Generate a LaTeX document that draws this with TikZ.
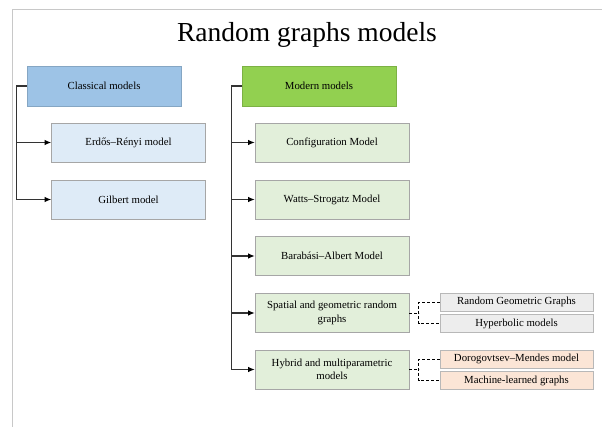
\documentclass[tikz,border=0pt]{standalone}
\usepackage{fontspec}
\setmainfont{Liberation Serif}
\usetikzlibrary{arrows.meta,positioning}
\definecolor{classhead}{HTML}{9DC3E6}
\definecolor{modhead}{HTML}{92D050}
\definecolor{classitem}{HTML}{DEEBF7}
\definecolor{moditem}{HTML}{E2EFDA}
\definecolor{graybox}{HTML}{EDEDED}
\definecolor{peachbox}{HTML}{FBE5D6}
\definecolor{framegray}{HTML}{C8C8C8}
\tikzset{>={Latex[length=6.5pt,width=5.5pt,black]}}
\tikzset{
  box/.style={draw=black!35, line width=0.6pt, minimum width=154pt,
    minimum height=40pt, align=center, inner sep=2pt,
    font=\fontsize{10.8}{13.5}\selectfont},
  headbox/.style={box},
  itembox/.style={box, minimum height=39pt},
  leafbox/.style={box, minimum width=153pt, minimum height=18pt, draw=black!28},
  tree/.style={->, line width=1.1pt, black!80},
  leafline/.style={dashed, dash pattern=on 3pt off 2pt, line width=0.8pt}
}
\begin{document}
\begin{tikzpicture}[x=1pt,y=1pt]
  \useasboundingbox (0,0) rectangle (602,427);
  \draw[framegray, line width=0.8pt] (12,0) -- (12,418) -- (602,418);
  \node (title) at (307,392) {\fontsize{27.5}{30}\selectfont Random graphs models};

  \node[headbox, fill=classhead, draw=classhead!85!black] (classical) at (104,341) {Classical models};
  \node[itembox, fill=classitem] (erdos) at (128.5,284.5) {Erdős–Rényi model};
  \node[itembox, fill=classitem] (gilbert) at (128.5,227.5) {Gilbert model};

  \node[headbox, fill=modhead, draw=modhead!85!black] (modern) at (319,341) {Modern models};
  \node[itembox, fill=moditem] (config) at (332,284.5) {Configuration Model};
  \node[itembox, fill=moditem] (watts) at (332,227.5) {Watts–Strogatz Model};
  \node[itembox, fill=moditem] (barabasi) at (332,171) {Barabási–Albert Model};
  \node[itembox, fill=moditem] (spatial) at (332,114) {Spatial and geometric random\\graphs};
  \node[itembox, fill=moditem] (hybrid) at (332,57.5) {Hybrid and multiparametric\\models};

  \node[leafbox, fill=graybox] (rgg) at (516.5,125) {Random Geometric Graphs};
  \node[leafbox, fill=graybox] (hyper) at (516.5,103.5) {Hyperbolic models};
  \node[leafbox, fill=peachbox] (dorog) at (516.5,68) {Dorogovtsev–Mendes model};
  \node[leafbox, fill=peachbox] (mlgraph) at (516.5,46.5) {Machine-learned graphs};

  \foreach \n in {erdos,gilbert}
    \draw[tree] (classical.west) -- ++(-10,0) |- (\n.west);
  \foreach \n in {config,watts,barabasi,spatial,hybrid}
    \draw[tree] (modern.west) -- ++(-10,0) |- (\n.west);

  \draw[leafline] (spatial.east) -- ++(10,0);
  \draw[leafline] (rgg.west) -- ++(-21,0) |- (hyper.west);
  \draw[leafline] (hybrid.east) -- ++(10,0);
  \draw[leafline] (dorog.west) -- ++(-21,0) |- (mlgraph.west);
\end{tikzpicture}
\end{document}
